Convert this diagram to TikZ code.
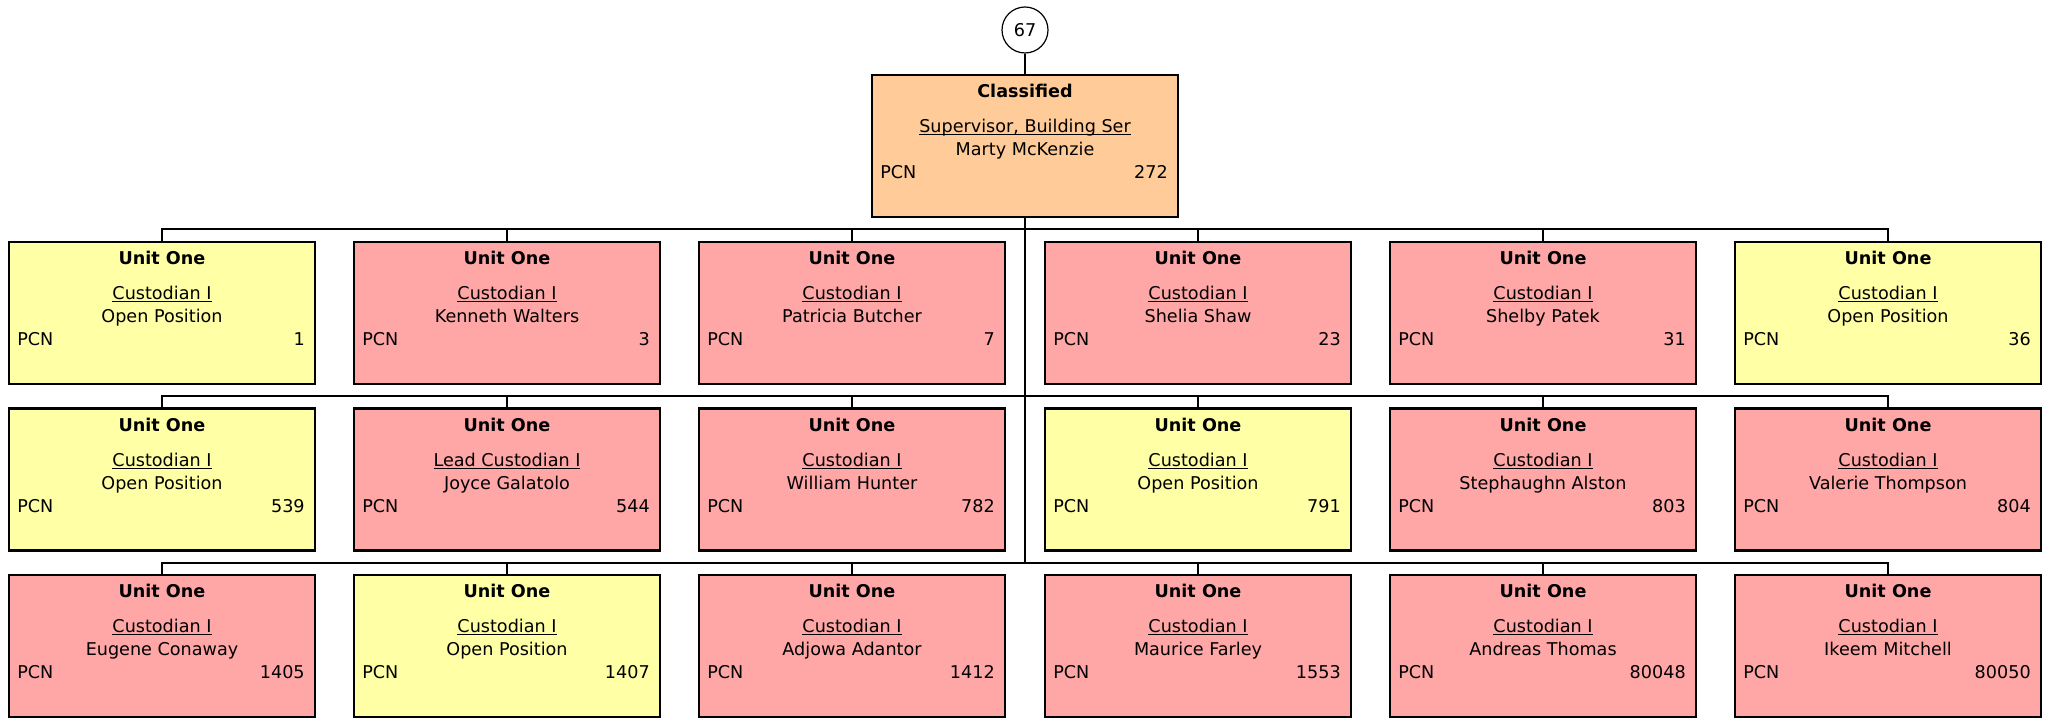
\documentclass[tikz,border=0pt]{standalone}
\usepackage{fontspec}
\setmainfont{DejaVu Sans}
\usepackage{xcolor}
\usepackage{tikz}
\usetikzlibrary{calc, positioning}

\definecolor{openyellow}{HTML}{FFFFA6}
\definecolor{heldpink}{HTML}{FFA6A6}
\definecolor{headorange}{HTML}{FFCC99}

\newcommand{\undl}[1]{\setbox0\hbox{#1}\rlap{\rule[-1.2pt]{\wd0}{0.5pt}}\box0}

% one position box: name, x, y, colour, header, job, person, pcn
\newcommand{\orgbox}[8]{%
  \node[posbox, fill=#4] (#1) at (#2,#3) {};
  \node[txt] (#1-h) at ($(#1.north)+(0,24)$) {\bfseries #5};
  \node[txt] (#1-j) at ($(#1.north)+(0,59)$) {\undl{#6}};
  \node[txt] (#1-p) at ($(#1.north)+(0,82)$) {#7};
  \node[txt, anchor=base west] (#1-l) at ($(#1.north west)+(9,105)$) {PCN};
  \node[txt, anchor=base east] (#1-n) at ($(#1.north east)+(-11,105)$) {#8};
}

\tikzset{
  posbox/.style={draw=black, line width=1.1pt, minimum width=153pt, minimum height=71pt, inner sep=0pt},
  txt/.style={anchor=base, inner sep=0pt, font=\fontsize{8.8}{10}\selectfont},
  link/.style={line width=0.9pt, black},
}

\begin{document}
\begin{tikzpicture}[x=0.5pt, y=-0.5pt]
    \useasboundingbox (0,0) rectangle (2049,721);

    % 编号
    \node[circle, draw, line width=0.6pt, minimum size=23pt, inner sep=0pt, font=\fontsize{8.8}{10}\selectfont] (num) at (1025,30) {67};

    % 主管
    \orgbox{top}{1025}{146}{headorange}{Classified}{Supervisor, Building Ser}{Marty McKenzie}{272}

    % 第一行
    \orgbox{r1a}{162}{313}{openyellow}{Unit One}{Custodian I}{Open Position}{1}
    \orgbox{r1b}{507}{313}{heldpink}{Unit One}{Custodian I}{Kenneth Walters}{3}
    \orgbox{r1c}{852}{313}{heldpink}{Unit One}{Custodian I}{Patricia Butcher}{7}
    \orgbox{r1d}{1198}{313}{heldpink}{Unit One}{Custodian I}{Shelia Shaw}{23}
    \orgbox{r1e}{1543}{313}{heldpink}{Unit One}{Custodian I}{Shelby Patek}{31}
    \orgbox{r1f}{1888}{313}{openyellow}{Unit One}{Custodian I}{Open Position}{36}

    % 第二行
    \orgbox{r2a}{162}{479.5}{openyellow}{Unit One}{Custodian I}{Open Position}{539}
    \orgbox{r2b}{507}{479.5}{heldpink}{Unit One}{Lead Custodian I}{Joyce Galatolo}{544}
    \orgbox{r2c}{852}{479.5}{heldpink}{Unit One}{Custodian I}{William Hunter}{782}
    \orgbox{r2d}{1198}{479.5}{openyellow}{Unit One}{Custodian I}{Open Position}{791}
    \orgbox{r2e}{1543}{479.5}{heldpink}{Unit One}{Custodian I}{Stephaughn Alston}{803}
    \orgbox{r2f}{1888}{479.5}{heldpink}{Unit One}{Custodian I}{Valerie Thompson}{804}

    % 第三行
    \orgbox{r3a}{162}{646}{heldpink}{Unit One}{Custodian I}{Eugene Conaway}{1405}
    \orgbox{r3b}{507}{646}{openyellow}{Unit One}{Custodian I}{Open Position}{1407}
    \orgbox{r3c}{852}{646}{heldpink}{Unit One}{Custodian I}{Adjowa Adantor}{1412}
    \orgbox{r3d}{1198}{646}{heldpink}{Unit One}{Custodian I}{Maurice Farley}{1553}
    \orgbox{r3e}{1543}{646}{heldpink}{Unit One}{Custodian I}{Andreas Thomas}{80048}
    \orgbox{r3f}{1888}{646}{heldpink}{Unit One}{Custodian I}{Ikeem Mitchell}{80050}

    % 连线
    \coordinate (bus1) at (1025,229);
    \coordinate (bus2) at (1025,396);
    \coordinate (bus3) at (1025,563);
    \draw[link] (num) -- (top);
    \draw[link] (top) -- (bus3);
    \foreach \r in {1,2,3} {
        \draw[link] (r\r a.north) |- (bus\r) -| (r\r f.north);
        \foreach \n in {b,c,d,e}
            \draw[link] (r\r\n.north) -- (r\r\n.north |- bus\r);
    }
\end{tikzpicture}
\end{document}
